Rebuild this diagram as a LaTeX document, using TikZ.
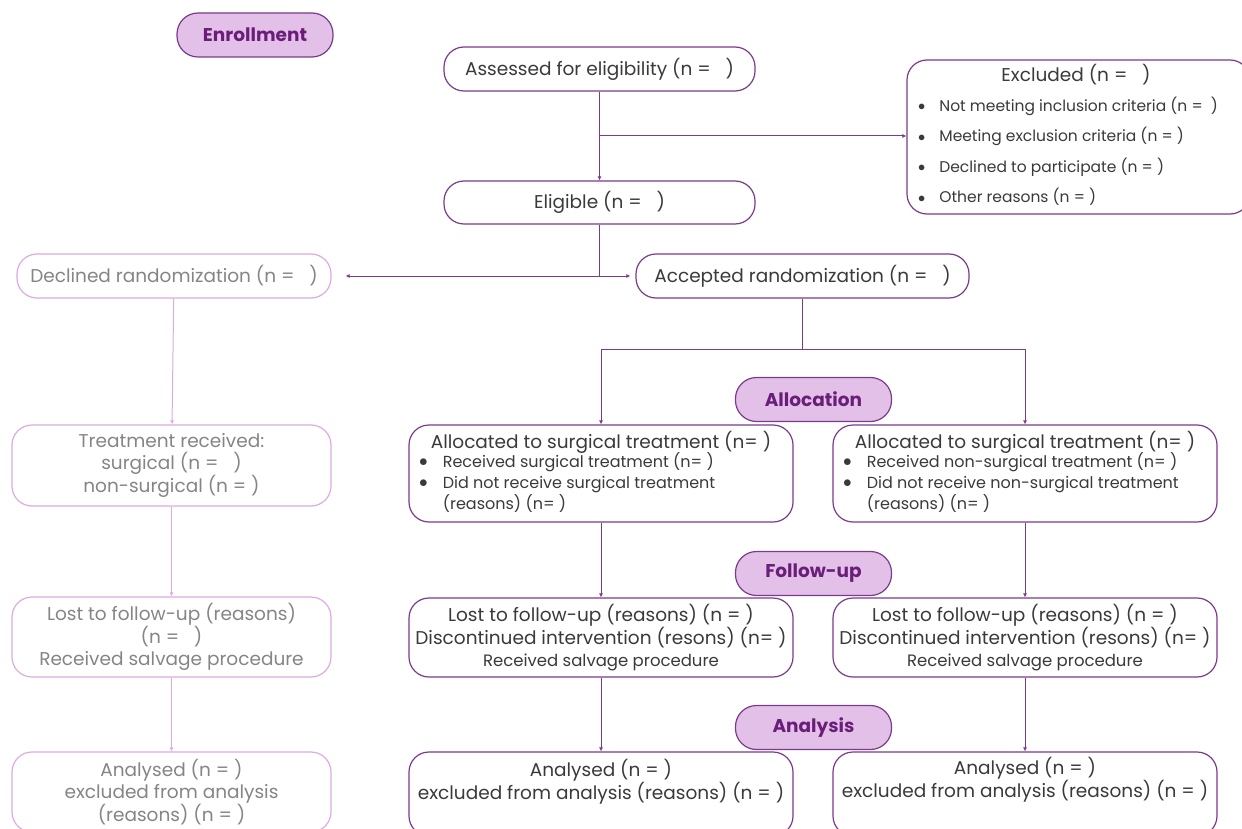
\documentclass[tikz,border=0pt]{standalone}
\usepackage{fontspec}
\setmainfont{Poppins}
\usetikzlibrary{arrows.meta}

\definecolor{FrameDark}{HTML}{7B3A8C}
\definecolor{FrameLight}{HTML}{DDAAE4}
\definecolor{StageFill}{HTML}{E3C0E8}
\definecolor{StageText}{HTML}{6A1E7A}
\definecolor{TextMain}{HTML}{3A3A3A}
\definecolor{TextSoft}{HTML}{858585}

\newcommand{\dotitem}{\raisebox{0.5pt}{$\bullet$}}

\tikzset{
  stage/.style={draw=FrameDark, fill=StageFill, line width=1.2pt, rounded corners=21pt,
    minimum width=156pt, minimum height=44pt, inner sep=0pt, text=StageText,
    font=\fontsize{18.5}{20}\selectfont\bfseries},
  mainbox/.style={draw=FrameDark, line width=1.2pt, rounded corners=20pt, inner sep=0pt,
    align=center, text=TextMain, font=\fontsize{18.5}{22}\selectfont},
  softbox/.style={draw=FrameLight, line width=1.2pt, rounded corners=20pt, inner sep=0pt,
    align=center, text=TextSoft, font=\fontsize{18.5}{22}\selectfont},
  boxtext/.style={inner sep=0pt, align=center, text=TextMain, font=\fontsize{18.5}{22}\selectfont},
  listtext/.style={inner sep=0pt, text=TextMain},
  link/.style={draw=FrameDark, line width=1pt},
  flow/.style={link, -{Latex[length=4pt,width=4pt]}},
  softflow/.style={draw=FrameLight, line width=1pt, -{Latex[length=4pt,width=4pt]}},
}

\begin{document}
\begin{tikzpicture}[x=1pt,y=-1pt]
\clip (0,0) rectangle (1242,829);
\fill[white] (0,0) rectangle (1242,829);

% Enrollment
\node[mainbox, minimum width=311pt, minimum height=44pt] (assessed) at (599.5,69) {Assessed for eligibility (n =\ \ \ )};
\node[mainbox, minimum width=311pt, minimum height=43pt] (eligible) at (599.5,202.5) {Eligible (n =\ \ \ )};
\node[mainbox, minimum width=343pt, minimum height=154pt] (excluded) at (1078.5,137) {};
\node[boxtext] (exclhead) at (1076,75) {Excluded (n =\ \ \ )};
\node[listtext, anchor=west, font=\fontsize{15.5}{30.5}\selectfont] (excllist) at (918,151)
  {\begin{tabular}{@{}l@{\hspace{14pt}}l@{}}
   \dotitem & Not meeting inclusion criteria (n =\ \ ) \\
   \dotitem & Meeting exclusion criteria (n = ) \\
   \dotitem & Declined to participate (n = ) \\
   \dotitem & Other reasons (n = )
   \end{tabular}};
\node[softbox, minimum width=314pt, minimum height=44pt] (declined) at (174,276) {Declined randomization (n =\ \ \ )};
\node[mainbox, minimum width=333pt, minimum height=44pt] (accepted) at (802.5,276) {Accepted randomization (n =\ \ \ )};

% Allocation
\node[mainbox, minimum width=384pt, minimum height=97pt] (allocS) at (601,473.5) {};
\node[boxtext] (allocShead) at (601,442) {Allocated to surgical treatment (n= )};
\node[listtext, anchor=west, font=\fontsize{16}{21}\selectfont] (allocSlist) at (419,484)
  {\begin{tabular}{@{}l@{\hspace{15pt}}l@{}}
   \dotitem & Received surgical treatment (n= ) \\
   \dotitem & Did not receive surgical treatment \\
               & (reasons) (n= )
   \end{tabular}};
\node[mainbox, minimum width=384pt, minimum height=97pt] (allocN) at (1025,473.5) {};
\node[boxtext] (allocNhead) at (1025,442) {Allocated to surgical treatment (n= )};
\node[listtext, anchor=west, font=\fontsize{16}{21}\selectfont] (allocNlist) at (843,484)
  {\begin{tabular}{@{}l@{\hspace{15pt}}l@{}}
   \dotitem & Received non-surgical treatment (n= ) \\
   \dotitem & Did not receive non-surgical treatment \\
               & (reasons) (n= )
   \end{tabular}};
\node[softbox, minimum width=319pt, minimum height=81pt] (treated) at (171.5,465.5)
  {Treatment received:\\ surgical (n =\ \ \ )\\ non-surgical (n =\ )};

% Follow-up
\node[mainbox, minimum width=384pt, minimum height=79pt] (lostS) at (601,637.5)
  {Lost to follow-up (reasons) (n = )\\ Discontinued intervention (resons) (n= )\\
   \fontsize{16.5}{22}\selectfont Received salvage procedure};
\node[mainbox, minimum width=384pt, minimum height=79pt] (lostN) at (1025,637.5)
  {Lost to follow-up (reasons) (n = )\\ Discontinued intervention (resons) (n= )\\
   \fontsize{16.5}{22}\selectfont Received salvage procedure};
\node[softbox, minimum width=319pt, minimum height=80pt] (lostL) at (171.5,637)
  {Lost to follow-up (reasons)\\ (n =\ \ \ )\\ Received salvage procedure};

% Analysis
\node[mainbox, minimum width=384pt, minimum height=84pt] (anaS) at (601,794) {};
\node[boxtext] (anaStext) at (601,781.5) {Analysed (n = )\\ excluded from analysis (reasons) (n = )};
\node[mainbox, minimum width=384pt, minimum height=84pt] (anaN) at (1025,794) {};
\node[boxtext] (anaNtext) at (1025,780) {Analysed (n = )\\ excluded from analysis (reasons) (n = )};
\node[softbox, minimum width=319pt, minimum height=80pt] (anaL) at (171.5,792)
  {Analysed (n =\ )\\ excluded from analysis\\ (reasons) (n = )};

% connectors
\coordinate (exclsplit) at (599.5,136);
\draw[flow] (assessed) -- (eligible);
\draw[flow] (exclsplit) -- (exclsplit -| excluded.west);

\coordinate (randsplit) at (eligible.south |- accepted.west);
\draw[link] (eligible) -- (randsplit);
\draw[flow, shorten >=14pt] (randsplit) -- (declined);
\draw[flow, shorten >=5pt] (randsplit) -- (accepted);

\coordinate (allocsplit) at (accepted.south |- 0,349);
\draw[link] (accepted) -- (allocsplit);
\draw[flow] (allocsplit) -| (allocS);
\draw[flow] (allocsplit) -| (allocN);

\draw[flow] (allocS) -- (lostS);
\draw[flow] (allocN) -- (lostN);
\draw[flow] (lostS) -- (anaS);
\draw[flow] (lostN) -- (anaN);

\draw[softflow] (declined) -- (treated);
\draw[softflow] (treated) -- (lostL);
\draw[softflow] (lostL) -- (anaL);

% stage labels
\node[stage] (enrol) at (255,35) {Enrollment};
\node[stage] (allocation) at (813.5,399.5) {Allocation};
\node[stage] (followup) at (813.5,573.5) {Follow-up};
\node[stage] (analysis) at (813.5,727.5) {Analysis};

\end{tikzpicture}
\end{document}
